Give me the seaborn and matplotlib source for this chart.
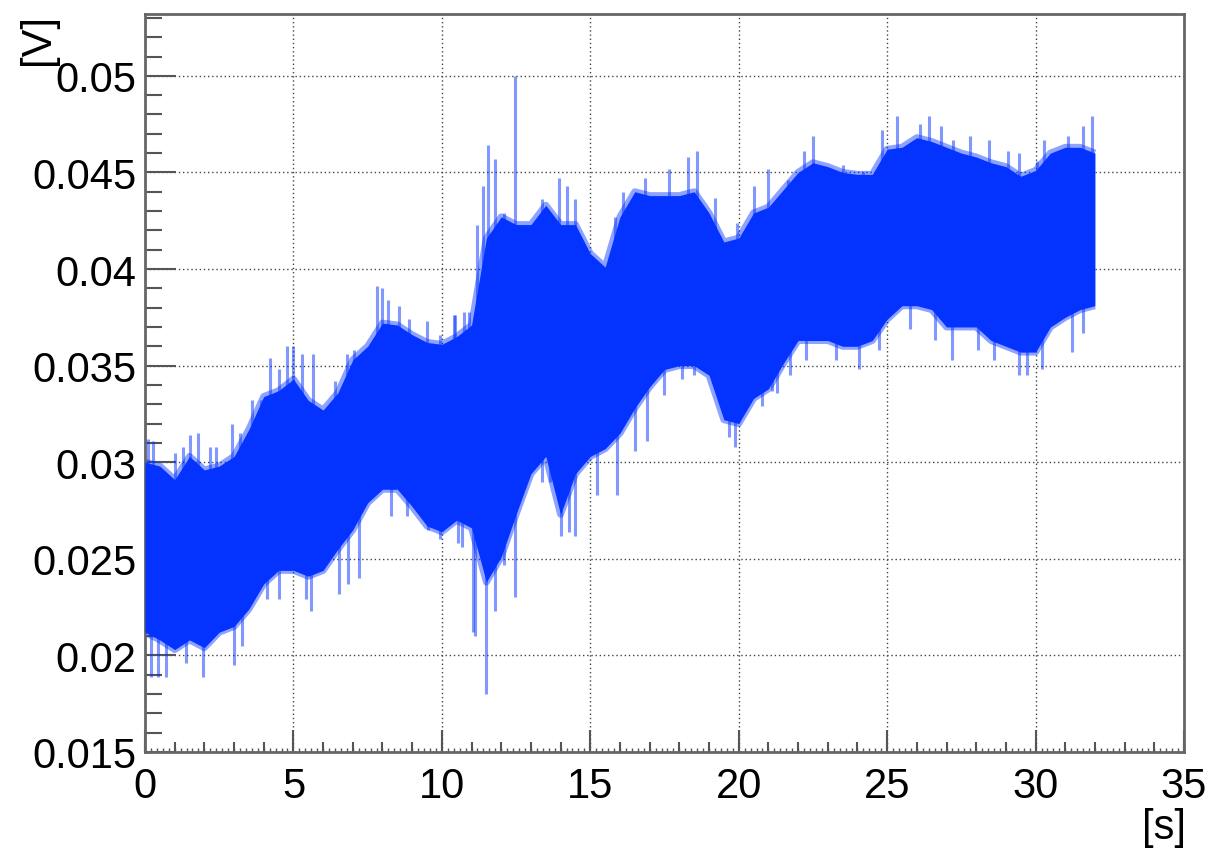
import numpy as np
import seaborn as sns
import matplotlib.pyplot as plt
from matplotlib.ticker import MultipleLocator

# envelope of the recorded voltage, read every 0.5 s
time_s = np.arange(0, 32.01, 0.5)
upper_v = [0.0300, 0.0298, 0.0291, 0.0303, 0.0296, 0.0298, 0.0303, 0.0317, 0.0334, 0.0337,
           0.0343, 0.0332, 0.0327, 0.0336, 0.0353, 0.0360, 0.0372, 0.0371, 0.0366, 0.0362,
           0.0361, 0.0365, 0.0371, 0.0416, 0.0427, 0.0423, 0.0423, 0.0433, 0.0423, 0.0423,
           0.0408, 0.0401, 0.0427, 0.0440, 0.0438, 0.0438, 0.0438, 0.0440, 0.0429, 0.0414,
           0.0416, 0.0429, 0.0432, 0.0441, 0.0450, 0.0455, 0.0453, 0.0450, 0.0449, 0.0449,
           0.0462, 0.0463, 0.0468, 0.0466, 0.0463, 0.0460, 0.0458, 0.0455, 0.0453, 0.0448,
           0.0451, 0.0460, 0.0463, 0.0463, 0.0460]
lower_v = [0.0212, 0.0208, 0.0203, 0.0208, 0.0204, 0.0212, 0.0215, 0.0224, 0.0237, 0.0244,
           0.0244, 0.0241, 0.0244, 0.0255, 0.0265, 0.0279, 0.0286, 0.0286, 0.0277, 0.0267,
           0.0264, 0.0270, 0.0266, 0.0238, 0.0251, 0.0273, 0.0294, 0.0303, 0.0273, 0.0294,
           0.0303, 0.0307, 0.0315, 0.0328, 0.0339, 0.0348, 0.0350, 0.0350, 0.0345, 0.0322,
           0.0320, 0.0333, 0.0338, 0.0351, 0.0363, 0.0363, 0.0363, 0.0360, 0.0360, 0.0363,
           0.0374, 0.0381, 0.0381, 0.0379, 0.0370, 0.0370, 0.0370, 0.0363, 0.0360, 0.0357,
           0.0357, 0.0370, 0.0375, 0.0379, 0.0381]

# single spikes sticking out of the band
spike_up_t = [0.1, 0.28, 1.0, 1.28, 1.5, 1.78, 2.2, 2.4, 2.94, 3.2, 3.6, 3.9, 4.2, 4.5, 4.8,
              5.0, 5.3, 5.67, 6.4, 6.8, 7.05, 7.83, 8.0, 8.2, 8.55, 8.9, 9.5, 9.94, 10.4,
              10.45, 10.73, 10.9, 11.18, 11.4, 11.57, 11.8, 12.08, 12.36, 12.47, 12.75,
              13.37, 13.93, 14.2, 14.5, 15.84, 16.1, 16.85, 17.64, 18.3, 18.6, 19.2, 19.94,
              20.5, 21.0, 21.67, 22.2, 22.5, 23.5, 24.17, 24.83, 25.33, 26.1, 26.4, 26.83,
              27.22, 27.78, 28.44, 29.06, 29.44, 30.06, 30.28, 31.1, 31.6, 31.9]
spike_up_v = [0.0312, 0.0311, 0.0305, 0.0308, 0.0314, 0.0315, 0.0308, 0.0308, 0.0320, 0.0315,
              0.0332, 0.0332, 0.0354, 0.0348, 0.0360, 0.0360, 0.0356, 0.0356, 0.0342, 0.0356,
              0.0358, 0.0391, 0.0390, 0.0384, 0.0381, 0.0374, 0.0373, 0.0366, 0.0376,
              0.0376, 0.0378, 0.0378, 0.0423, 0.0443, 0.0464, 0.0457, 0.0429, 0.0416, 0.0500,
              0.0421, 0.0436, 0.0447, 0.0443, 0.0436, 0.0427, 0.0440, 0.0447, 0.0452, 0.0458,
              0.0461, 0.0437, 0.0424, 0.0443, 0.0452, 0.0446, 0.0461, 0.0469, 0.0454, 0.0450,
              0.0472, 0.0479, 0.0475, 0.0479, 0.0474, 0.0467, 0.0469, 0.0467, 0.0461, 0.0460,
              0.0456, 0.0467, 0.0469, 0.0474, 0.0479]
spike_lo_t = [0.2, 0.44, 0.72, 1.39, 1.78, 1.94, 3.0, 3.28, 4.1, 4.5, 5.44, 5.6, 6.55, 6.83,
              7.2, 8.28, 8.83, 9.55, 9.94, 10.56, 10.67, 11.06, 11.12, 11.5, 11.8, 12.08,
              12.47, 13.37, 13.65, 14.0, 14.27, 14.5, 15.22, 15.9, 16.5, 16.9, 17.47, 18.09,
              18.48, 19.66, 19.89, 20.79, 21.12, 21.28, 21.72, 22.28, 23.28, 24.06, 24.72,
              25.5, 25.78, 26.6, 27.17, 28.06, 28.6, 29.44, 29.72, 30.22, 31.22, 31.6]
spike_lo_v = [0.0189, 0.0189, 0.0189, 0.0196, 0.0225, 0.0189, 0.0195, 0.0205, 0.0229, 0.0229,
              0.0229, 0.0223, 0.0232, 0.0237, 0.0240, 0.0272, 0.0272, 0.0265, 0.0260, 0.0258,
              0.0256, 0.0212, 0.0210, 0.0180, 0.0223, 0.0247, 0.0230, 0.0290, 0.0290, 0.0262,
              0.0264, 0.0262, 0.0283, 0.0283, 0.0306, 0.0311, 0.0335, 0.0343, 0.0345, 0.0313,
              0.0308, 0.0329, 0.0337, 0.0336, 0.0345, 0.0353, 0.0353, 0.0348, 0.0358, 0.0386,
              0.0369, 0.0363, 0.0353, 0.0358, 0.0353, 0.0345, 0.0345, 0.0348, 0.0357, 0.0367]

blue = '#0433ff'

sns.set_style("white")
plt.rcParams['font.family'] = ['Liberation Sans', 'DejaVu Sans']
plt.rcParams['text.color'] = 'black'
plt.rcParams['xtick.labelcolor'] = 'black'
plt.rcParams['ytick.labelcolor'] = 'black'

fig = plt.figure(figsize=(12.11, 8.53), dpi=100)
ax = fig.add_axes([145 / 1211, 100 / 853, 1039 / 1211, 738 / 853])

mid_v = (np.array(upper_v) + np.array(lower_v)) / 2
ax.vlines(spike_up_t, np.interp(spike_up_t, time_s, mid_v), spike_up_v,
          color=blue, alpha=0.5, lw=2.2, zorder=2)
ax.vlines(spike_lo_t, spike_lo_v, np.interp(spike_lo_t, time_s, mid_v),
          color=blue, alpha=0.5, lw=2.2, zorder=2)
ax.fill_between(time_s, lower_v, upper_v, color=blue, lw=0, zorder=3)
# soft fringe along the edges of the band
sns.lineplot(x=time_s, y=upper_v, color=blue, lw=5, alpha=0.45, ax=ax, zorder=2,
             solid_capstyle='butt')
sns.lineplot(x=time_s, y=lower_v, color=blue, lw=5, alpha=0.45, ax=ax, zorder=2,
             solid_capstyle='butt')

ax.set_xlim(0, 35)
ax.set_ylim(0.015, 0.0532)
ax.xaxis.set_major_locator(MultipleLocator(5))
ax.xaxis.set_minor_locator(MultipleLocator(0.2))
ax.yaxis.set_major_locator(MultipleLocator(0.005))
ax.yaxis.set_minor_locator(MultipleLocator(0.001))
ax.set_yticks(np.arange(0.015, 0.0501, 0.005))
ax.set_yticklabels(['0.015', '0.02', '0.025', '0.03', '0.035', '0.04', '0.045', '0.05'])

ax.grid(True, which='major', color='#444444', ls=(0, (1, 2)), lw=1.0)
ax.set_axisbelow(True)

ax.tick_params(axis='x', which='major', direction='in', length=16, width=1.5,
               color='#555555', labelsize=30, pad=10, bottom=True, top=False)
ax.tick_params(axis='x', which='minor', direction='in', length=3, width=1,
               color='#555555', bottom=True, top=False)
ax.tick_params(axis='y', which='major', direction='in', length=22, width=1.5,
               color='#555555', labelsize=30, pad=6, left=True, right=False)
ax.tick_params(axis='y', which='minor', direction='in', length=12, width=1.5,
               color='#555555', left=True, right=False)

# integer-second ticks (ROOT style middle-length ticks)
sec = ax.secondary_xaxis(0)
sec.set_xticks(np.arange(0, 36, 1))
sec.tick_params(direction='in', length=7, width=1.5, color='#555555', labelbottom=False)
sec.spines['bottom'].set_visible(False)

for s in ax.spines.values():
    s.set_color('#666666')
    s.set_linewidth(2)
    s.set_visible(True)

ax.set_xlabel('')
ax.set_ylabel('')
fig.text(1186 / 1211, 1 - 808 / 853, '[s]', ha='right', va='top', fontsize=30, color='black')
fig.text(38 / 1211, 1 - 14 / 853, '[V]', rotation=90, ha='center', va='top', fontsize=30,
         color='black')

fig.savefig('out.png', dpi=100)
